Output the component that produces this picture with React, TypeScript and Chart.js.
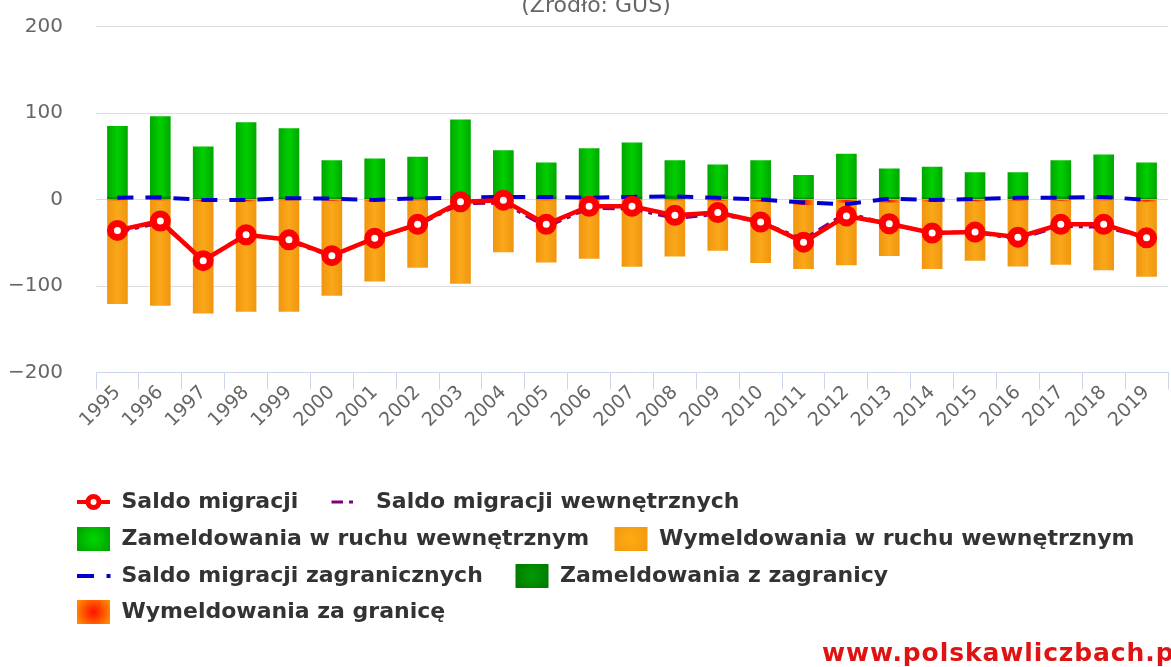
import React, { useEffect, useRef } from 'react';
import { Chart, registerables } from 'chart.js';

Chart.register(...registerables);

// ---------- data ----------
const years = ['1995', '1996', '1997', '1998', '1999', '2000', '2001', '2002', '2003', '2004', '2005', '2006', '2007', '2008', '2009', '2010', '2011', '2012', '2013', '2014', '2015', '2016', '2017', '2018', '2019'];

const saldoMigracji = [-35.7, -24.9, -70.7, -40.8, -46.6, -64.9, -44.7, -28.7, -2.7, -0.8, -28.7, -7.8, -7.8, -18.3, -15.1, -26.0, -49.3, -19.0, -28.0, -38.8, -37.7, -43.5, -28.7, -28.7, -44.3];
const saldoWewnetrznych = [-38, -27, -70, -40, -48, -66, -44, -30, -5, -4, -32, -10, -11, -22, -17, -26, -46, -15, -29, -38, -38, -46, -31, -32, -44];
const zameldowaniaWewn = [82, 93, 60, 88, 80, 43, 46, 47, 89, 53, 39, 56, 62, 41, 37, 43, 26, 51, 33, 36, 29, 28, 42, 48, 41];
const wymeldowaniaWewn = [-120, -122, -130, -128, -129, -110, -93, -78, -96, -60, -72, -67, -77, -65, -58, -71, -74, -72, -62, -78, -69, -76, -74, -81, -87];
const saldoZagranicznych = [2, 2.5, -0.5, -0.5, 1.5, 1, -0.5, 1.5, 2, 3, 3, 2, 3, 3.5, 2, 0, -3.5, -5.5, 1, -0.5, 0.5, 2, 2, 3, -0.5];
const zameldowaniaZagr = [2.5, 3, 1, 1, 2, 2, 1, 2, 3, 3.5, 3.5, 3, 3.5, 4, 3, 2, 2, 1.5, 2.5, 1.5, 2, 3, 3, 3.5, 1.5];
const wymeldowaniaZagr = [-0.5, -0.5, -1.5, -1.5, -0.5, -1, -1.5, -0.5, -1, -0.5, -0.5, -1, -0.5, -0.5, -1, -2, -6, -3.5, -3, -2, -1.5, -1, -1, -0.5, -2];

const yTicks = [-200, -100, 0, 100, 200];

const seriesNames = [
  'Saldo migracji',
  'Saldo migracji wewnętrznych',
  'Zameldowania w ruchu wewnętrznym',
  'Wymeldowania w ruchu wewnętrznym',
  'Saldo migracji zagranicznych',
  'Zameldowania z zagranicy',
  'Wymeldowania za granicę',
];

const subtitleText = '(Źródło: GUS)';
const watermarkText = 'www.polskawliczbach.pl';

// ---------- styling helpers ----------
const FONT = '"DejaVu Sans", "Noto Sans", sans-serif';

const barGradient = (edge: string, mid: string) => (ctx: any) => {
  const chart = ctx.chart;
  if (ctx.type !== 'data' || !chart.chartArea || !chart.scales || !chart.scales.x) return mid;
  const cx = chart.scales.x.getPixelForValue(ctx.dataIndex);
  const g = chart.ctx.createLinearGradient(cx - 10, 0, cx + 10, 0);
  g.addColorStop(0, edge);
  g.addColorStop(0.5, mid);
  g.addColorStop(1, edge);
  return g;
};

const fmtTick = (v: number) => (v < 0 ? '\u2212' + Math.abs(v) : String(v));

const overlayPlugin = {
  id: 'overlay',
  afterDraw(chart: any) {
    const c: CanvasRenderingContext2D = chart.ctx;
    c.save();

    // subtitle (partially cut at the top)
    c.font = `22px ${FONT}`;
    c.fillStyle = '#666666';
    c.textAlign = 'center';
    c.textBaseline = 'alphabetic';
    c.fillText(subtitleText, 596, 12);

    // legend
    const rowsY = [502, 539, 576, 612];
    const items = [
      { kind: 'marker', x: 77, row: 0 },
      { kind: 'purple', x: 331.5, row: 0 },
      { kind: 'sq', c1: '#00d800', c2: '#00a400', x: 77, row: 1 },
      { kind: 'sq', c1: '#ffab12', c2: '#f39a10', x: 614.5, row: 1 },
      { kind: 'blue', x: 77, row: 2 },
      { kind: 'sq', c1: '#009c00', c2: '#007a00', x: 515.5, row: 2 },
      { kind: 'sq', c1: '#ff1000', c2: '#ff8a00', x: 77, row: 3 },
    ];
    c.textAlign = 'left';
    c.textBaseline = 'middle';
    items.forEach((it: any, i) => {
      const y = rowsY[it.row];
      const x = it.x;
      if (it.kind === 'marker') {
        c.strokeStyle = '#ff0000';
        c.lineWidth = 4;
        c.setLineDash([]);
        c.beginPath();
        c.moveTo(x, y);
        c.lineTo(x + 33, y);
        c.stroke();
        c.beginPath();
        c.arc(x + 16.5, y, 5.5, 0, Math.PI * 2);
        c.fillStyle = '#ffffff';
        c.fill();
        c.lineWidth = 5;
        c.stroke();
      } else if (it.kind === 'purple') {
        c.strokeStyle = '#800080';
        c.lineWidth = 3;
        c.setLineDash([]);
        c.beginPath();
        c.moveTo(x, y);
        c.lineTo(x + 11.5, y);
        c.moveTo(x + 17.5, y);
        c.lineTo(x + 21.5, y);
        c.stroke();
      } else if (it.kind === 'blue') {
        c.strokeStyle = '#0000d0';
        c.lineWidth = 4;
        c.setLineDash([]);
        c.beginPath();
        c.moveTo(x, y);
        c.lineTo(x + 17, y);
        c.moveTo(x + 29.5, y);
        c.lineTo(x + 33.5, y);
        c.stroke();
      } else {
        const g = c.createRadialGradient(x + 16.5, y, 0, x + 16.5, y, 18);
        g.addColorStop(0, it.c1);
        g.addColorStop(1, it.c2);
        c.fillStyle = g;
        c.fillRect(x, y - 12, 33, 24);
      }
      c.fillStyle = '#333333';
      c.font = `bold 22px ${FONT}`;
      c.fillText(seriesNames[i], x + 44.5, y);
    });

    // watermark
    c.font = `bold 25px ${FONT}`;
    (c as any).letterSpacing = '0.9px';
    c.fillStyle = '#e01212';
    c.textAlign = 'left';
    c.textBaseline = 'alphabetic';
    c.fillText(watermarkText, 822, 661);
    c.restore();
  },
};

export default function App() {
  const ref = useRef<HTMLCanvasElement | null>(null);

  useEffect(() => {
    if (!ref.current) return;
    const chart = new Chart(ref.current, {
      type: 'bar',
      data: {
        labels: years,
        datasets: [
          {
            type: 'line',
            label: seriesNames[0],
            data: saldoMigracji,
            borderColor: '#ff0000',
            borderWidth: 4.5,
            pointRadius: 7,
            pointBorderWidth: 7,
            pointBackgroundColor: '#ffffff',
            pointBorderColor: '#ff0000',
            tension: 0,
            stack: 'l1',
            order: 0,
          },
          {
            type: 'line',
            label: seriesNames[1],
            data: saldoWewnetrznych,
            borderColor: '#800080',
            borderWidth: 3,
            borderDash: [12, 6, 4, 6],
            pointRadius: 0,
            tension: 0,
            stack: 'l2',
            order: 1,
          },
          {
            label: seriesNames[2],
            data: zameldowaniaWewn,
            backgroundColor: barGradient('#00a800', '#00cf00'),
            barThickness: 20,
            stack: 'bars',
            order: 4,
          },
          {
            label: seriesNames[3],
            data: wymeldowaniaWewn,
            backgroundColor: barGradient('#f0960f', '#fba81a'),
            barThickness: 20,
            stack: 'bars',
            order: 4,
          },
          {
            type: 'line',
            label: seriesNames[4],
            data: saldoZagranicznych,
            borderColor: '#0000d0',
            borderWidth: 4,
            borderDash: [16, 12],
            pointRadius: 0,
            tension: 0,
            stack: 'l3',
            order: 2,
          },
          {
            label: seriesNames[5],
            data: zameldowaniaZagr,
            backgroundColor: barGradient('#007e00', '#00a000'),
            barThickness: 20,
            stack: 'bars',
            order: 3,
          },
          {
            label: seriesNames[6],
            data: wymeldowaniaZagr,
            backgroundColor: barGradient('#ff8a00', '#ff1000'),
            barThickness: 20,
            stack: 'bars',
            order: 3,
          },
        ] as any,
      },
      options: {
        responsive: false,
        animation: false,
        devicePixelRatio: 1,
        layout: { padding: { top: 26.5, right: 3, left: 0, bottom: 0 } },
        plugins: {
          legend: { display: false },
          title: { display: false },
          tooltip: { enabled: false },
        },
        scales: {
          x: {
            stacked: true,
            offset: true,
            grid: {
              display: true,
              drawOnChartArea: false,
              drawTicks: true,
              tickLength: 17,
              color: '#ccd6eb',
              offset: true,
            },
            border: { display: true, color: '#ccd6eb', width: 1 },
            ticks: {
              autoSkip: false,
              minRotation: 45,
              maxRotation: 45,
              padding: -8,
              color: '#666666',
              font: { family: FONT, size: 19 },
            },
            afterFit: (s: any) => {
              s.height = 294.5;
            },
          },
          y: {
            stacked: true,
            min: yTicks[0],
            max: yTicks[yTicks.length - 1],
            afterBuildTicks: (s: any) => {
              s.ticks = yTicks.map((v) => ({ value: v }));
            },
            grid: {
              color: '#dcdcdc',
              drawTicks: true,
              tickLength: 33,
              tickColor: 'rgba(0,0,0,0)',
              lineWidth: 1,
            },
            border: { display: false },
            ticks: {
              padding: 0,
              color: '#666666',
              font: { family: FONT, size: 20 },
              callback: (v: any) => fmtTick(Number(v)),
            },
            afterFit: (s: any) => {
              s.width = 96;
            },
          },
        },
      } as any,
      plugins: [overlayPlugin],
    });
    return () => chart.destroy();
  }, []);

  return (
    <div
      style={{
        position: 'fixed',
        left: 0,
        top: 0,
        width: 1171,
        height: 667,
        overflow: 'hidden',
        background: '#ffffff',
      }}
    >
      <canvas ref={ref} width={1182} height={667} style={{ width: 1182, height: 667, display: 'block' }} />
    </div>
  );
}
